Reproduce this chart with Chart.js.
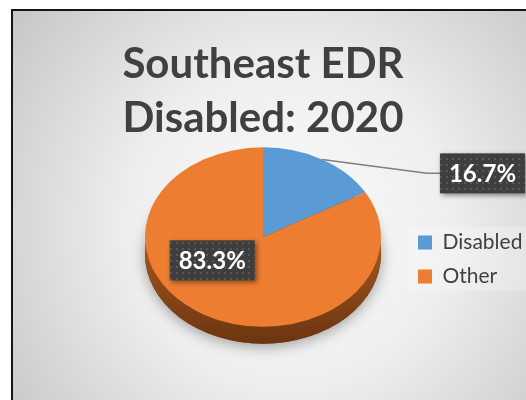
<!DOCTYPE html>
<html>
<head>
<meta charset="utf-8">
<title>Southeast EDR Disabled: 2020</title>
<script src="https://cdn.jsdelivr.net/npm/chart.js@4/dist/chart.umd.min.js"></script>
<style>
  body { margin: 0; background: #fff; }
  #wrap { width: 526px; height: 400px; }
</style>
</head>
<body>
<div id="wrap"><canvas id="pie-chart"></canvas></div>
<script>
document.addEventListener("DOMContentLoaded", function () {
  // Data
  const categories = ["Disabled", "Other"];
  const shares = [16.7, 83.3];
  const titleLines = ["Southeast EDR", "Disabled: 2020"];

  // Look
  const sliceColors = ["#5b9bd5", "#ed7d31"];
  const sideColors = [["#3f76a8", "#2b5680"], ["#a8581e", "#6b3510"]];
  const tilt = 0.76; // vertical squash of the pie
  const depth = 17; // thickness of the pie wall
  // label box centre, in radii from the pie centre, and whether it gets a leader line
  const labelSpots = [[1.86, -0.71, true], [-0.43, 0.26, false]];

  // dotted dark fill for the label boxes
  const dots = document.createElement("canvas");
  dots.width = 6;
  dots.height = 6;
  const dctx = dots.getContext("2d");
  dctx.fillStyle = "#3e3e3e";
  dctx.fillRect(0, 0, 6, 6);
  dctx.fillStyle = "#575757";
  dctx.fillRect(2, 2, 2, 2);

  const backdrop = {
    id: "backdrop",
    beforeDraw(chart) {
      const ctx = chart.ctx;
      const w = chart.width, h = chart.height;
      ctx.save();
      ctx.fillStyle = "#fff";
      ctx.fillRect(0, 0, w, h);
      const g = ctx.createRadialGradient(290, 225, 0, 290, 225, 360);
      g.addColorStop(0, "#fbfbfb");
      g.addColorStop(0.45, "#eeeeee");
      g.addColorStop(1, "#c4c4c4");
      ctx.fillStyle = g;
      ctx.fillRect(12, 10, w - 12, h - 10);
      // panel behind the legend
      const lg = chart.legend;
      ctx.fillStyle = "rgba(255,255,255,0.25)";
      ctx.fillRect(lg.left + 2, lg.top + 8, w - lg.left - 2, 64);
      // frame
      ctx.strokeStyle = "#151515";
      ctx.lineWidth = 2;
      ctx.beginPath();
      ctx.moveTo(12, h);
      ctx.lineTo(12, 10);
      ctx.lineTo(w, 10);
      ctx.stroke();
      ctx.restore();
    },
  };

  const tilted = {
    id: "tilted",
    beforeDatasetsDraw(chart) {
      const ctx = chart.ctx;
      const arcs = chart.getDatasetMeta(0).data;
      const cx = arcs[0].x, cy = arcs[0].y, r = arcs[0].outerRadius;
      const ry = r * tilt;
      ctx.save();
      // soft shadow under the pie
      ctx.shadowColor = "rgba(0,0,0,0.35)";
      ctx.shadowBlur = 14;
      ctx.shadowOffsetY = 3;
      ctx.fillStyle = sideColors[1][1];
      ctx.beginPath();
      ctx.ellipse(cx, cy + depth, r, ry, 0, 0, Math.PI * 2);
      ctx.fill();
      ctx.shadowColor = "transparent";
      // wall, only the front half shows
      arcs.forEach((arc, i) => {
        [-2 * Math.PI, 0, 2 * Math.PI].forEach((shift) => {
          const lo = Math.max(arc.startAngle, shift);
          const hi = Math.min(arc.endAngle, Math.PI + shift);
          if (lo >= hi) return;
          const g = ctx.createLinearGradient(0, cy, 0, cy + ry + depth);
          g.addColorStop(0, sideColors[i][0]);
          g.addColorStop(1, sideColors[i][1]);
          ctx.fillStyle = g;
          ctx.beginPath();
          ctx.ellipse(cx, cy + depth, r, ry, 0, lo, hi);
          ctx.ellipse(cx, cy, r, ry, 0, hi, lo, true);
          ctx.closePath();
          ctx.fill();
        });
      });
      ctx.restore();
      ctx.save();
      ctx.translate(cx, cy);
      ctx.scale(1, tilt);
      ctx.translate(-cx, -cy);
    },
    afterDatasetsDraw(chart) {
      chart.ctx.restore();
    },
  };

  const legendSpot = {
    id: "legendSpot",
    afterLayout(chart) {
      const lg = chart.legend;
      lg.left = 405;
      lg.right = lg.left + lg.width;
      lg.top = 219;
      lg.height = 90;
      lg.bottom = lg.top + lg.height;
    },
  };

  const boxLabels = {
    id: "boxLabels",
    afterDraw(chart) {
      const ctx = chart.ctx;
      const total = shares.reduce((a, b) => a + b, 0);
      chart.getDatasetMeta(0).data.forEach((arc, i) => {
        const cx = arc.x, cy = arc.y, r = arc.outerRadius;
        const [fx, fy, outside] = labelSpots[i];
        const bx = cx + fx * r;
        const by = cy + fy * r * tilt;
        const text = ((shares[i] / total) * 100).toFixed(1) + "%";
        ctx.save();
        ctx.font = "bold 24px Lato";
        const bw = ctx.measureText(text).width + 18;
        const bh = 40;
        const left = bx - bw / 2, top = by - bh / 2;
        if (outside) {
          const mid = (arc.startAngle + arc.endAngle) / 2;
          ctx.strokeStyle = "#7f7f7f";
          ctx.lineWidth = 1.5;
          ctx.beginPath();
          ctx.moveTo(cx + Math.cos(mid) * r, cy + Math.sin(mid) * r * tilt);
          ctx.lineTo(left - 13, by);
          ctx.lineTo(left, by);
          ctx.stroke();
        }
        ctx.shadowColor = "rgba(0,0,0,0.45)";
        ctx.shadowBlur = 5;
        ctx.shadowOffsetX = 2;
        ctx.shadowOffsetY = 2;
        ctx.fillStyle = ctx.createPattern(dots, "repeat");
        ctx.fillRect(left, top, bw, bh);
        ctx.shadowColor = "transparent";
        ctx.fillStyle = "#fff";
        ctx.textAlign = "center";
        ctx.textBaseline = "middle";
        ctx.fillText(text, bx, by + 1);
        ctx.restore();
      });
    },
  };

  const ctx = document.getElementById("pie-chart").getContext("2d");
  new Chart(ctx, {
    type: "pie",
    data: {
      labels: categories,
      datasets: [
        {
          data: shares,
          backgroundColor: sliceColors,
          borderWidth: 0,
          radius: 118,
          clip: false,
        },
      ],
    },
    options: {
      responsive: true,
      maintainAspectRatio: false,
      animation: false,
      devicePixelRatio: 1,
      events: [],
      layout: {
        padding: { top: 10, left: 12, right: 12, bottom: 71 },
      },
      plugins: {
        tooltip: { enabled: false },
        title: {
          display: true,
          text: titleLines,
          color: "#404040",
          font: { family: "Lato", size: 42, weight: "bold", lineHeight: 1.286 },
          padding: { top: 27, bottom: 0 },
        },
        legend: {
          position: "chartArea",
          align: "start",
          labels: {
            boxWidth: 14,
            boxHeight: 14,
            padding: 13,
            color: "#404040",
            font: { family: "Lato", size: 21 },
          },
        },
      },
    },
    plugins: [backdrop, tilted, legendSpot, boxLabels],
  });
});
</script>
</body>
</html>
